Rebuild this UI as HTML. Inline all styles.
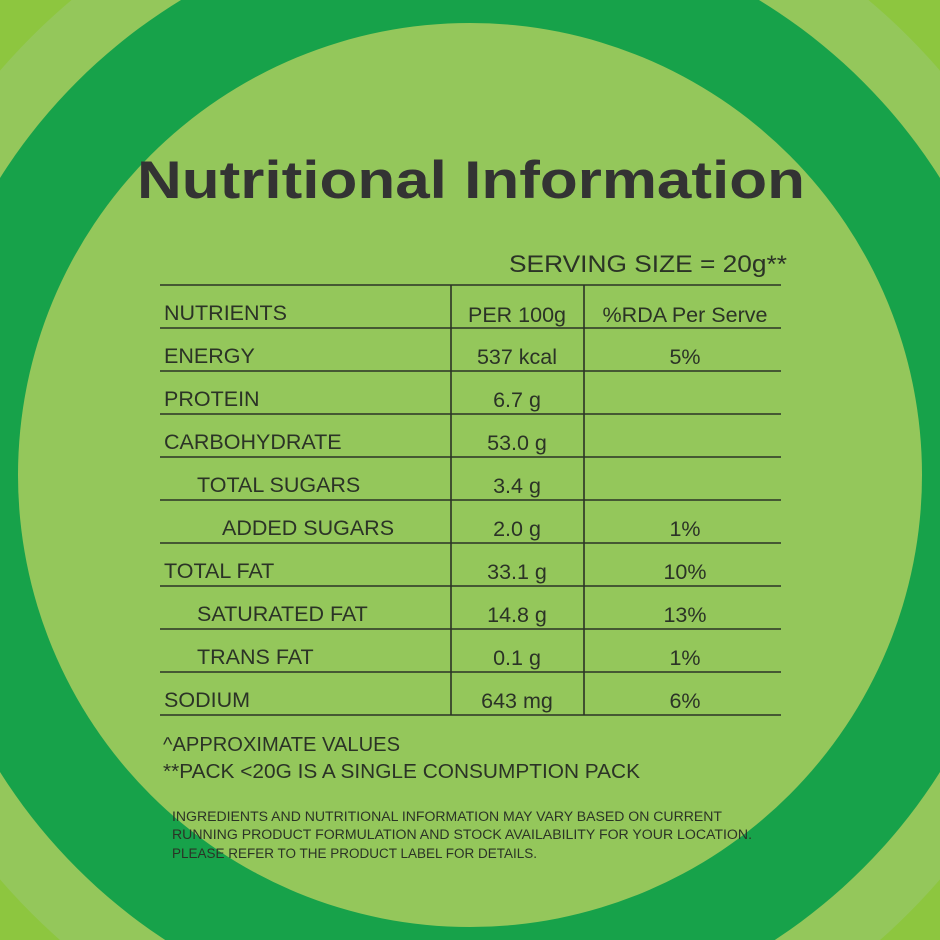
<!DOCTYPE html>
<html><head><meta charset="utf-8"><style>
html,body{margin:0;padding:0;width:940px;height:940px;overflow:hidden;background:#8dc63f}
svg{display:block;overflow:hidden}
text{font-family:"Liberation Sans",sans-serif;fill:#2b3326}
</style></head><body>
<svg width="940" height="940" viewBox="0 0 940 940">
<rect width="940" height="940" fill="#8dc63f"/>
<circle cx="470" cy="475" r="620" fill="#94c75b"/>
<circle cx="470" cy="475" r="556" fill="#17a24a"/>
<circle cx="470" cy="475" r="452" fill="#94c75b"/>
<text x="137" y="198" font-size="53" font-weight="bold" textLength="668" lengthAdjust="spacingAndGlyphs" style="fill:#333">Nutritional Information</text>
<text x="787" y="272" font-size="24" text-anchor="end" textLength="278" lengthAdjust="spacingAndGlyphs">SERVING SIZE = 20g**</text>
<g stroke="#2b3326" stroke-width="1.6">
<line x1="160" y1="285" x2="781" y2="285"/>
<line x1="160" y1="328" x2="781" y2="328"/>
<line x1="160" y1="371" x2="781" y2="371"/>
<line x1="160" y1="414" x2="781" y2="414"/>
<line x1="160" y1="457" x2="781" y2="457"/>
<line x1="160" y1="500" x2="781" y2="500"/>
<line x1="160" y1="543" x2="781" y2="543"/>
<line x1="160" y1="586" x2="781" y2="586"/>
<line x1="160" y1="629" x2="781" y2="629"/>
<line x1="160" y1="672" x2="781" y2="672"/>
<line x1="160" y1="715" x2="781" y2="715"/>
<line x1="451" y1="285" x2="451" y2="715"/>
<line x1="584" y1="285" x2="584" y2="715"/>
</g>
<g font-size="21.5">
<text x="164" y="320">NUTRIENTS</text>
<text x="517" y="322" text-anchor="middle">PER 100g</text>
<text x="685" y="322" text-anchor="middle">%RDA Per Serve</text>
<text x="164" y="363">ENERGY</text>
<text x="517" y="364" text-anchor="middle">537 kcal</text>
<text x="685" y="364" text-anchor="middle">5%</text>
<text x="164" y="406">PROTEIN</text>
<text x="517" y="407" text-anchor="middle">6.7 g</text>
<text x="164" y="449">CARBOHYDRATE</text>
<text x="517" y="450" text-anchor="middle">53.0 g</text>
<text x="197" y="492">TOTAL SUGARS</text>
<text x="517" y="493" text-anchor="middle">3.4 g</text>
<text x="222" y="535">ADDED SUGARS</text>
<text x="517" y="536" text-anchor="middle">2.0 g</text>
<text x="685" y="536" text-anchor="middle">1%</text>
<text x="164" y="578">TOTAL FAT</text>
<text x="517" y="579" text-anchor="middle">33.1 g</text>
<text x="685" y="579" text-anchor="middle">10%</text>
<text x="197" y="621">SATURATED FAT</text>
<text x="517" y="622" text-anchor="middle">14.8 g</text>
<text x="685" y="622" text-anchor="middle">13%</text>
<text x="197" y="664">TRANS FAT</text>
<text x="517" y="665" text-anchor="middle">0.1 g</text>
<text x="685" y="665" text-anchor="middle">1%</text>
<text x="164" y="707">SODIUM</text>
<text x="517" y="708" text-anchor="middle">643 mg</text>
<text x="685" y="708" text-anchor="middle">6%</text>
</g>
<text x="163" y="751" font-size="20" textLength="237" lengthAdjust="spacingAndGlyphs">^APPROXIMATE VALUES</text>
<text x="163" y="778" font-size="20" textLength="477" lengthAdjust="spacingAndGlyphs">**PACK &lt;20G IS A SINGLE CONSUMPTION PACK</text>
<g font-size="13.5">
<text x="172" y="821" textLength="550" lengthAdjust="spacingAndGlyphs">INGREDIENTS AND NUTRITIONAL INFORMATION MAY VARY BASED ON CURRENT</text>
<text x="172" y="839" textLength="580" lengthAdjust="spacingAndGlyphs">RUNNING PRODUCT FORMULATION AND STOCK AVAILABILITY FOR YOUR LOCATION.</text>
<text x="172" y="858" textLength="365" lengthAdjust="spacingAndGlyphs">PLEASE REFER TO THE PRODUCT LABEL FOR DETAILS.</text>
</g>
</svg>
</body></html>
